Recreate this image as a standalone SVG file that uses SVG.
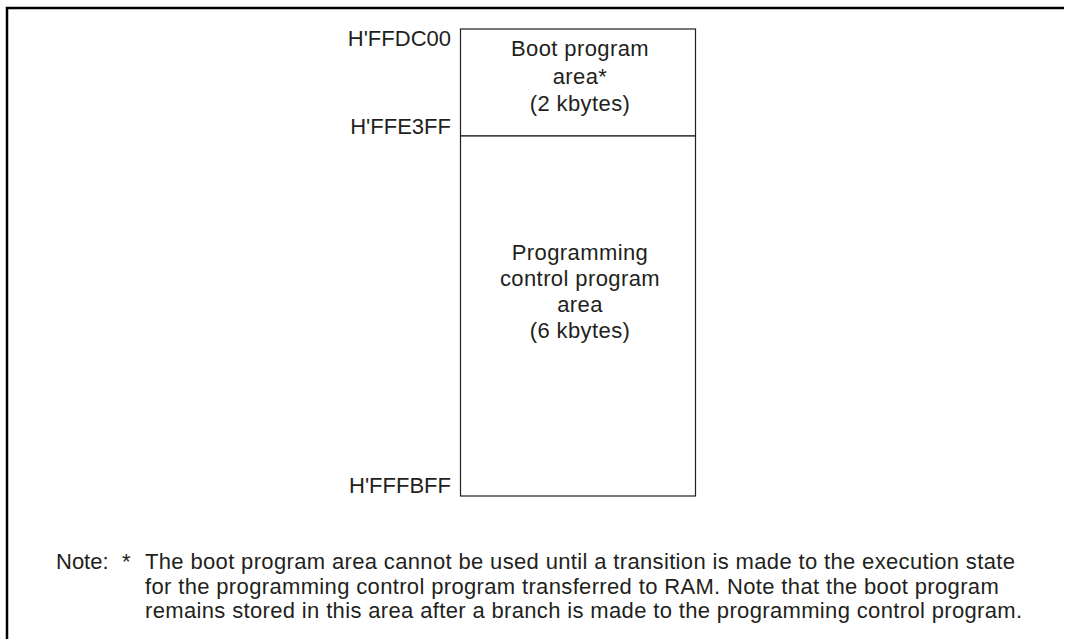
<svg xmlns="http://www.w3.org/2000/svg" width="1065" height="639" viewBox="0 0 1065 639">
<style>
text{font-family:"Liberation Sans",Arial,Helvetica,sans-serif;font-size:22px;fill:#231f20}
.c{text-anchor:middle;letter-spacing:0.4px}
.r{text-anchor:end}
.n{letter-spacing:0.35px}
.box{fill:#fff;stroke:#231f20;stroke-width:1.2}
.frame{fill:none;stroke:#000;stroke-width:2.5}
</style>
<rect width="1065" height="639" fill="#fff"/>
<path class="frame" d="M7,639 V8 H1064"/>
<g id="boot-area">
<rect class="box" x="460.5" y="29" width="235" height="107"/>
<text class="c" x="580" y="56">Boot program</text>
<text class="c" x="580" y="83.5">area*</text>
<text class="c" x="580" y="110.5">(2 kbytes)</text>
</g>
<g id="control-area">
<rect class="box" x="460.5" y="136" width="235" height="360"/>
<text class="c" x="580" y="259.5">Programming</text>
<text class="c" x="580" y="285.5">control program</text>
<text class="c" x="580" y="311.5">area</text>
<text class="c" x="580" y="337.5">(6 kbytes)</text>
</g>
<g id="addresses">
<text class="r" x="451" y="46">H'FFDC00</text>
<text class="r" x="451" y="134">H'FFE3FF</text>
<text class="r" x="451" y="493">H'FFFBFF</text>
</g>
<g id="connectors"></g>
<g id="note">
<text x="56" y="569">Note:</text>
<text x="122" y="569">*</text>
<text class="n" x="145" y="569">The boot program area cannot be used until a transition is made to the execution state</text>
<text class="n" x="145" y="593.5">for the programming control program transferred to RAM. Note that the boot program</text>
<text class="n" x="145" y="618">remains stored in this area after a branch is made to the programming control program.</text>
</g>
</svg>
